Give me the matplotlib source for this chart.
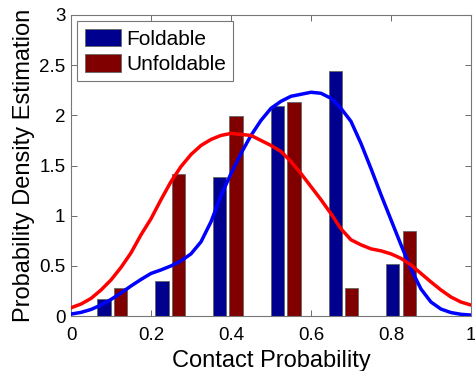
import numpy as np
import matplotlib
matplotlib.use("Agg")
import matplotlib.pyplot as plt

plt.rcParams['font.family'] = ['Liberation Sans', 'DejaVu Sans']

bin_centers = [0.103, 0.248, 0.392, 0.537, 0.681, 0.825]
foldable = [0.17, 0.35, 1.39, 2.09, 2.44, 0.52]
unfoldable = [0.28, 1.42, 1.99, 2.13, 0.28, 0.85]

curve_x = [0.0, 0.025, 0.05, 0.075, 0.1, 0.125, 0.15, 0.175, 0.2, 0.225,
           0.25, 0.275, 0.3, 0.325, 0.35, 0.375, 0.4, 0.425, 0.45, 0.475,
           0.5, 0.525, 0.55, 0.575, 0.6, 0.625, 0.65, 0.675, 0.7, 0.725,
           0.75, 0.775, 0.8, 0.825, 0.85, 0.875, 0.9, 0.925, 0.95, 0.975, 1.0]
fold_curve = [0.02, 0.037, 0.066, 0.11, 0.166, 0.23, 0.30, 0.365, 0.425, 0.46,
              0.50, 0.55, 0.62, 0.74, 0.94, 1.20, 1.42, 1.62, 1.80, 1.95,
              2.07, 2.14, 2.19, 2.21, 2.23, 2.22, 2.17, 2.07, 1.94, 1.72,
              1.47, 1.21, 0.96, 0.71, 0.47, 0.27, 0.14, 0.07, 0.035, 0.018, 0.01]
unfold_curve = [0.083, 0.12, 0.176, 0.26, 0.36, 0.485, 0.63, 0.81, 0.97, 1.16,
                1.34, 1.49, 1.61, 1.70, 1.76, 1.80, 1.82, 1.81, 1.80, 1.75,
                1.70, 1.64, 1.54, 1.42, 1.29, 1.16, 1.02, 0.87, 0.76, 0.71,
                0.67, 0.65, 0.62, 0.575, 0.51, 0.425, 0.34, 0.26, 0.19, 0.14, 0.11]

fig = plt.figure(figsize=(4.75, 3.71), dpi=100)
ax = fig.add_axes([0.1495, 0.148, 0.842, 0.8116])

w = 0.033
off = 0.0205
bc = np.array(bin_centers)
ax.bar(bc - off, foldable, width=w, color='#00008F', edgecolor='#666666', linewidth=0.6, label='Foldable', zorder=2)
ax.bar(bc + off, unfoldable, width=w, color='#800000', edgecolor='#666666', linewidth=0.6, label='Unfoldable', zorder=2)

ax.plot(curve_x, fold_curve, color='#0000FF', linewidth=2.5, zorder=3)
ax.plot(curve_x, unfold_curve, color='#FF0000', linewidth=2.5, zorder=3)

ax.set_xlim(0, 1)
ax.set_ylim(0, 3)
ax.set_xticks([0, 0.2, 0.4, 0.6, 0.8, 1])
ax.set_xticklabels(['0', '0.2', '0.4', '0.6', '0.8', '1'])
ax.set_yticks([0, 0.5, 1, 1.5, 2, 2.5, 3])
ax.set_yticklabels(['0', '0.5', '1', '1.5', '2', '2.5', '3'])
ax.tick_params(direction='in', top=True, right=True, labelsize=13.5, length=4, width=0.6, color='#555555')
ax.tick_params(axis='x', pad=8)
ax.tick_params(axis='y', pad=4)
for s in ax.spines.values():
    s.set_color('#777777')
    s.set_linewidth(0.8)

ax.set_xlabel('Contact Probability', fontsize=17, labelpad=4)
ax.set_ylabel('Probability Density Estimation', fontsize=17, labelpad=3)

leg = ax.legend(loc='upper left', fontsize=15, fancybox=False, framealpha=1,
                edgecolor='#777777', handlelength=1.75, handleheight=0.95,
                borderaxespad=0.3, borderpad=0.35, labelspacing=0.25, handletextpad=0.25)
leg.get_frame().set_linewidth(0.8)

fig.savefig('out.png', dpi=100)
